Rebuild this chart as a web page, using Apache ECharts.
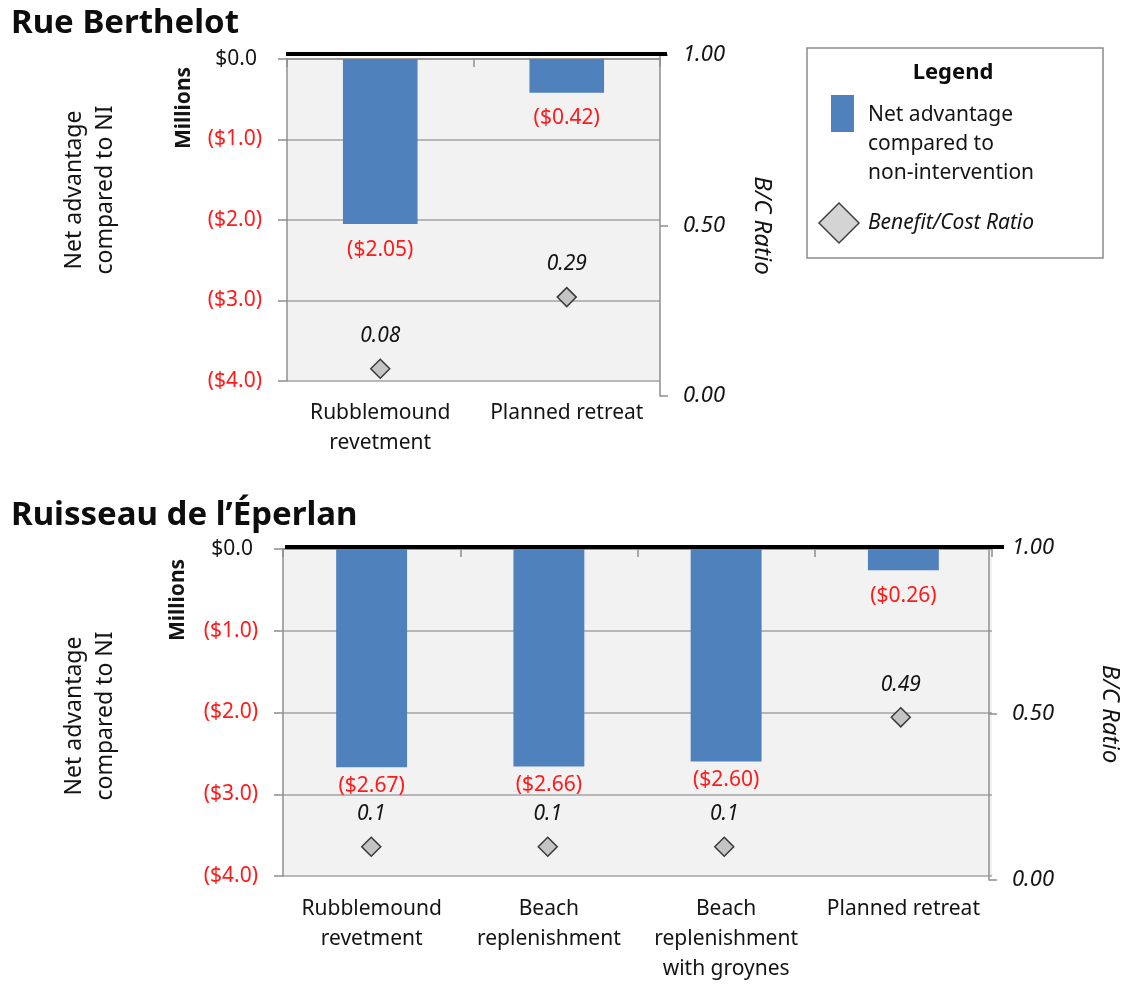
<!DOCTYPE html>
<html>
<head>
<meta charset="utf-8">
<script src="https://cdn.jsdelivr.net/npm/echarts@6/dist/echarts.min.js"></script>
<style>
html,body{margin:0;padding:0;background:#fff;}
#chart{width:1130px;height:984px;}
</style>
</head>
<body>
<div id="chart"></div>
<script>
// ---- data ----
const topTitle = 'Rue Berthelot';
const botTitle = 'Ruisseau de l\u2019\u00c9perlan';
const topCategories = ['Rubblemound\nrevetment', 'Planned retreat'];
const topNetAdvantage = [-2.05, -0.42];
const topBCRatio = [0.08, 0.29];
const botCategories = ['Rubblemound\nrevetment', 'Beach\nreplenishment', 'Beach\nreplenishment\nwith groynes', 'Planned retreat'];
const botNetAdvantage = [-2.67, -2.66, -2.60, -0.26];
const botBCRatio = [0.1, 0.1, 0.1, 0.49];
const netAxisTicks = [-4, -3, -2, -1, 0];
const bcAxisTicks = [0, 0.5, 1];
const netSeriesName = 'Net advantage compared to non-intervention';
const bcSeriesName = 'Benefit/Cost Ratio';

// ---- styling ----
const FONT = '"Noto Sans", sans-serif';
const FS = 21;
const TXT = '#141414';
const RED = '#ff1a1a';
const GRID_LINE = '#a3a3a3';
const AXIS_LINE = '#8f8f8f';
const BAR = '#4f81bd';

const chart = echarts.init(document.getElementById('chart'), null, {renderer: 'canvas'});

function netLabel(v) {
  return v === 0 ? '$0.0' : '($' + Math.abs(v).toFixed(1) + ')';
}

function buildPanel(cfg) {
  const gi = cfg.gridBase, xi = cfg.xBase, yi = cfg.yBase;
  const grids = [
    {left: cfg.left, top: cfg.barTop, width: cfg.width, height: cfg.barHeight,
     show: true, backgroundColor: '#f2f2f2', borderWidth: 0},
    {left: cfg.left, top: cfg.bcTop, width: cfg.width, height: cfg.bcHeight, show: false}
  ];
  const xAxes = [
    {gridIndex: gi, type: 'category', data: cfg.categories, position: 'top',
     axisLine: {show: true, onZero: false, lineStyle: {color: AXIS_LINE, width: 1.5}},
     axisTick: {show: true, inside: true, length: 8, lineStyle: {color: AXIS_LINE, width: 1.5}},
     axisLabel: {show: false}, splitLine: {show: false}},
    {gridIndex: gi, type: 'category', data: cfg.categories, position: 'bottom',
     axisLine: {show: false, onZero: false}, axisTick: {show: false},
     axisLabel: {show: true, margin: cfg.catMargin, interval: 0, fontFamily: FONT, fontSize: FS,
                 lineHeight: 30, color: TXT}},
    {gridIndex: gi + 1, type: 'category', data: cfg.categories, show: false}
  ];
  const yAxes = [
    {gridIndex: gi, type: 'value', min: netAxisTicks[0], max: netAxisTicks[netAxisTicks.length - 1],
     interval: netAxisTicks[1] - netAxisTicks[0], position: 'left',
     axisLine: {show: true, lineStyle: {color: AXIS_LINE, width: 1.5}},
     axisTick: {show: true, length: 9, lineStyle: {color: AXIS_LINE, width: 1.5}},
     axisLabel: {margin: 25, fontFamily: FONT, fontSize: FS,
       formatter: function (v) { return v === 0 ? '{pos|' + netLabel(v) + '}' : '{neg|' + netLabel(v) + '}'; },
       rich: {pos: {color: TXT, fontFamily: FONT, fontSize: FS, padding: [0, 5, 0, 0]},
              neg: {color: RED, fontFamily: FONT, fontSize: FS}}},
     splitLine: {show: true, lineStyle: {color: GRID_LINE, width: 1.5}}},
    {gridIndex: gi + 1, type: 'value', min: bcAxisTicks[0], max: bcAxisTicks[bcAxisTicks.length - 1],
     interval: bcAxisTicks[1] - bcAxisTicks[0], position: 'right',
     axisLine: {show: true, lineStyle: {color: AXIS_LINE, width: 1.5}},
     axisTick: {show: true, length: 8, lineStyle: {color: AXIS_LINE, width: 1.5}},
     axisLabel: {margin: 23, fontFamily: FONT, fontSize: 22, fontStyle: 'italic', color: TXT,
                 formatter: function (v) { return v.toFixed(2); }},
     splitLine: {show: false},
     name: 'B/C Ratio', nameLocation: 'middle', nameRotate: -90, nameGap: cfg.bcNameGap,
     nameTextStyle: {fontFamily: FONT, fontSize: 24, fontStyle: 'italic', color: TXT}}
  ];
  const barData = cfg.net.map(function (v, i) {
    const item = {value: v};
    if (cfg.tightLabels && cfg.tightLabels[i]) item.label = {distance: 8};
    return item;
  });
  const series = [
    {name: netSeriesName, type: 'bar', xAxisIndex: xi + 1, yAxisIndex: yi, data: barData,
     barWidth: '40%', itemStyle: {color: BAR},
     label: {show: true, position: 'bottom', distance: 15, color: RED, fontFamily: FONT, fontSize: FS,
             formatter: function (p) { return '($' + Math.abs(p.value).toFixed(2) + ')'; }}},
    {name: bcSeriesName, type: 'scatter', xAxisIndex: xi + 2, yAxisIndex: yi + 1, data: cfg.bc,
     symbol: 'diamond', symbolSize: 19,
     itemStyle: {color: '#c4c4c4', borderColor: '#3a3a3a', borderWidth: 1.5, opacity: 1},
     label: {show: true, position: 'top', distance: 12, color: TXT, fontFamily: FONT, fontSize: FS,
             fontStyle: 'italic', formatter: function (p) { return String(p.value); }}}
  ];
  return {grids: grids, xAxes: xAxes, yAxes: yAxes, series: series};
}

const topPanel = buildPanel({
  gridBase: 0, xBase: 0, yBase: 0, left: 287, width: 373,
  barTop: 59, barHeight: 322, bcTop: 55, bcHeight: 341,
  categories: topCategories, net: topNetAdvantage, bc: topBCRatio,
  catMargin: 17, bcNameGap: 90
});
const botPanel = buildPanel({
  gridBase: 2, xBase: 3, yBase: 2, left: 283, width: 709,
  barTop: 549, barHeight: 330, bcTop: 548, bcHeight: 332,
  categories: botCategories, net: botNetAdvantage, bc: botBCRatio,
  catMargin: 18, bcNameGap: 109, tightLabels: [true, true, true, false]
});

const option = {
  animation: false,
  backgroundColor: '#ffffff',
  textStyle: {fontFamily: FONT},
  title: [
    {text: topTitle, left: 6, top: 2, textStyle: {fontFamily: FONT, fontSize: 33, fontWeight: 'bold', color: '#0d0d0d'}},
    {text: botTitle, left: 6, top: 494, textStyle: {fontFamily: FONT, fontSize: 33, fontWeight: 'bold', color: '#0d0d0d'}}
  ],
  grid: topPanel.grids.concat(botPanel.grids),
  xAxis: topPanel.xAxes.concat(botPanel.xAxes),
  yAxis: topPanel.yAxes.concat(botPanel.yAxes),
  series: topPanel.series.concat(botPanel.series),
  graphic: [
    // thick black lines along the zero line
    {type: 'rect', shape: {x: 286, y: 52, width: 381, height: 4}, style: {fill: '#000'}, z: 100},
    {type: 'rect', shape: {x: 285, y: 545, width: 719, height: 4}, style: {fill: '#000'}, z: 100},
    // left axis titles
    {type: 'text', x: 90, y: 190, rotation: Math.PI / 2,
     style: {text: 'Net advantage\ncompared to NI', font: '23px ' + FONT, fill: TXT,
             align: 'center', verticalAlign: 'middle', lineHeight: 31}},
    {type: 'text', x: 184, y: 108, rotation: Math.PI / 2,
     style: {text: 'Millions', font: 'bold ' + FS + 'px ' + FONT, fill: TXT,
             align: 'center', verticalAlign: 'middle'}},
    {type: 'text', x: 90, y: 716, rotation: Math.PI / 2,
     style: {text: 'Net advantage\ncompared to NI', font: '23px ' + FONT, fill: TXT,
             align: 'center', verticalAlign: 'middle', lineHeight: 31}},
    {type: 'text', x: 178, y: 600, rotation: Math.PI / 2,
     style: {text: 'Millions', font: 'bold ' + FS + 'px ' + FONT, fill: TXT,
             align: 'center', verticalAlign: 'middle'}},
    // legend box
    {type: 'rect', shape: {x: 807, y: 48, width: 296, height: 210},
     style: {fill: '#fff', stroke: '#8c8c8c', lineWidth: 1.5}},
    {type: 'text', x: 953, y: 73,
     style: {text: 'Legend', font: 'bold 22px ' + FONT, fill: '#0d0d0d', align: 'center', verticalAlign: 'middle'}},
    {type: 'rect', shape: {x: 831, y: 95, width: 23, height: 37}, style: {fill: BAR}},
    {type: 'text', x: 868, y: 100.5,
     style: {text: 'Net advantage\ncompared to\nnon-intervention', font: FS + 'px ' + FONT, fill: TXT,
             align: 'left', verticalAlign: 'top', lineHeight: 29}},
    {type: 'polygon', shape: {points: [[839, 203], [859, 223], [839, 243], [819, 223]]},
     style: {fill: '#d4d4d4', stroke: '#404040', lineWidth: 1.5}},
    {type: 'text', x: 868, y: 223,
     style: {text: 'Benefit/Cost Ratio', font: 'italic ' + FS + 'px ' + FONT, fill: TXT,
             align: 'left', verticalAlign: 'middle'}}
  ]
};
chart.setOption(option);
</script>
</body>
</html>
